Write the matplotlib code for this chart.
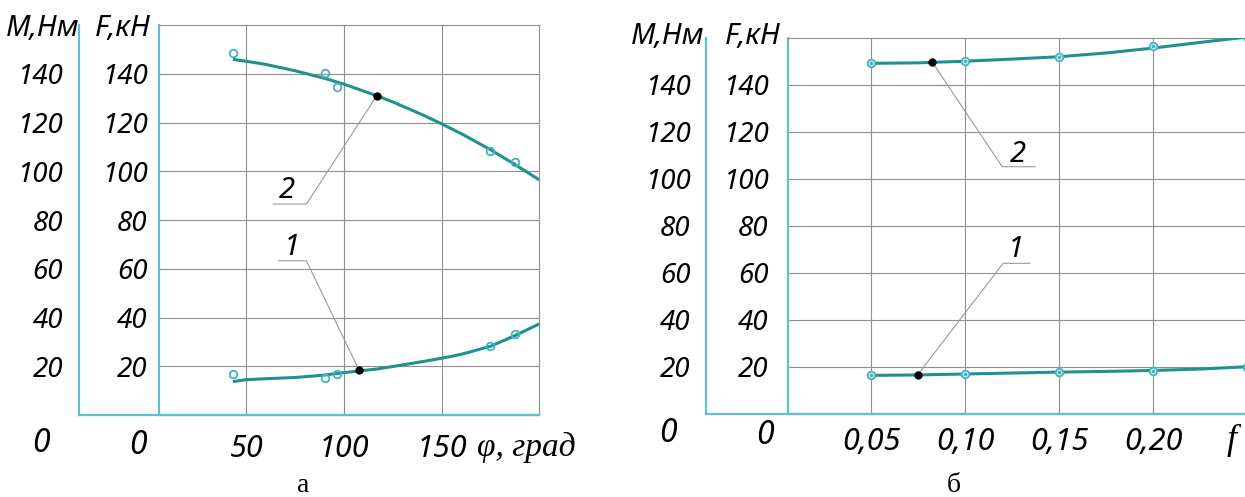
import matplotlib
matplotlib.use('Agg')
import matplotlib.pyplot as plt

# --- данные ---
# а) зависимость от угла phi, град
phi_line = [43, 50, 60, 75, 90, 100, 117, 125, 140, 150, 160, 175, 187, 200]
a_curve2 = [146.0, 145.2, 143.9, 141.3, 138.2, 135.8, 131.0, 128.5, 123.3, 119.5, 115.5, 108.9, 103.1, 96.5]
a_curve1 = [13.7, 14.5, 14.9, 15.4, 16.4, 17.4, 18.9, 19.9, 21.9, 23.3, 24.9, 28.2, 32.4, 37.4]
phi_pts = [43.2, 90.2, 96.3, 174.7, 187.8]
a_pts2 = [148.5, 140.3, 134.8, 108.5, 103.7]
a_pts1 = [16.8, 15.3, 16.8, 28.5, 33.1]
a_dots_x = [116.7, 107.6]
a_dots_y = [131.0, 18.5]

# б) зависимость от коэффициента f
f_line = [0.05, 0.075, 0.10, 0.125, 0.15, 0.175, 0.20, 0.225, 0.25]
b_curve2 = [149.1, 149.3, 150.0, 150.9, 151.9, 153.5, 155.6, 158.0, 160.3]
b_curve1 = [16.3, 16.5, 16.9, 17.3, 17.7, 18.0, 18.4, 19.0, 20.0]
f_pts = [0.05, 0.10, 0.15, 0.20, 0.25]
b_pts2 = [149.1, 150.1, 151.9, 156.5, 160.3]
b_pts1 = [16.3, 16.9, 17.7, 18.3, 20.0]
b_dots_x = [0.0826, 0.0747]
b_dots_y = [149.5, 16.5]

y_ticks = [20, 40, 60, 80, 100, 120, 140]
a_xticks = [50, 100, 150]
a_xlabels = ['50', '100', '150']
b_xticks = [0.05, 0.10, 0.15, 0.20]
b_xlabels = ['0,05', '0,10', '0,15', '0,20']

# выноски: (номер, точка кривой, излом, конец полки, место цифры)
a_leaders = [('2', (116.7, 131.0), (80.7, 86.6), (63.7, 86.6), (70.5, 92.0)),
             ('1', (107.6, 18.5), (80.7, 63.3), (66.4, 63.3), (73.0, 68.6))]
b_leaders = [('2', (0.0826, 149.5), (0.1197, 105.1), (0.1372, 105.1), (0.1280, 110.5)),
             ('1', (0.0747, 16.5), (0.1202, 64.0), (0.1344, 64.0), (0.1272, 70.0))]

W, H = 1245, 497
AX_COL = '#62c0ca'
LINE_COL = '#1c938e'
PT_COL = '#45b3bd'
GRID_COL = '#8e8e8e'
NARROW = ['Noto Sans', 'DejaVu Sans']
STRETCH = 'condensed'
SERIF = ['Liberation Serif', 'DejaVu Serif']

fig = plt.figure(figsize=(W / 100, H / 100), dpi=100)


def px_axes(x0, x1, ytop, ybot):
    return fig.add_axes([x0 / W, 1 - ybot / H, (x1 - x0) / W, (ybot - ytop) / H])


def ftext(x, y, s, **kw):
    fig.text(x / W, 1 - y / H, s, **kw)


def style_labels(labels, size):
    for lab in labels:
        lab.set_family(NARROW)
        lab.set_stretch(STRETCH)
        lab.set_style('italic')
        lab.set_fontsize(size)


def make_panel(xF, xM, xR, ytop, ybot, xlim, xticks, xlabels, padF, padM, padX, right_border):
    axM = px_axes(xM, xR, ytop, ybot)
    axM.set_facecolor('none')
    axM.set_xlim(xlim)
    axM.set_ylim(0, 160)
    for s in ['top', 'right']:
        axM.spines[s].set_visible(False)
    for s in ['left', 'bottom']:
        axM.spines[s].set_color(AX_COL)
        axM.spines[s].set_linewidth(1.6)
    axM.set_xticks([])
    axM.set_yticks(y_ticks)
    axM.set_yticklabels([str(v) for v in y_ticks])
    axM.tick_params(axis='y', length=0, pad=padM)
    style_labels(axM.get_yticklabels(), 20)

    ax = px_axes(xF, xR, ytop, ybot)
    ax.set_facecolor('none')
    ax.set_xlim(xlim)
    ax.set_ylim(0, 160)
    ax.spines['left'].set_color(AX_COL)
    ax.spines['bottom'].set_color(AX_COL)
    ax.spines['left'].set_linewidth(1.6)
    ax.spines['bottom'].set_linewidth(1.6)
    ax.spines['top'].set_color(GRID_COL)
    ax.spines['top'].set_linewidth(0.8)
    ax.spines['right'].set_color(GRID_COL)
    ax.spines['right'].set_linewidth(0.8)
    ax.spines['right'].set_visible(right_border)
    ax.set_yticks(y_ticks)
    ax.set_yticklabels([str(v) for v in y_ticks])
    ax.set_xticks(xticks)
    ax.set_xticklabels(xlabels)
    ax.tick_params(axis='y', length=0, pad=padF)
    ax.tick_params(axis='x', length=0, pad=padX)
    style_labels(ax.get_yticklabels(), 20)
    style_labels(ax.get_xticklabels(), 22)
    ax.grid(True, color=GRID_COL, linewidth=0.8)
    ax.set_axisbelow(True)
    return ax


def draw_leaders(ax, leaders):
    for num, p0, p1, p2, pt in leaders:
        ax.plot([p0[0], p1[0], p2[0]], [p0[1], p1[1], p2[1]],
                color='#9a9a9a', lw=0.8, zorder=2, clip_on=False)
        ax.text(pt[0], pt[1], num, family=NARROW, stretch=STRETCH, style='italic',
                fontsize=21, ha='center', va='center', zorder=5)


# ---- панель а ----
axA = make_panel(159.3, 79, 539.3, 415 - 160 * 2.436, 415,
                 (5.33, 200), a_xticks, a_xlabels, 8.6, 11.5, 14.0, True)
axA.plot(phi_line, a_curve2, color=LINE_COL, lw=2.2, zorder=3, solid_capstyle='butt')
axA.plot(phi_line, a_curve1, color=LINE_COL, lw=2.2, zorder=3, solid_capstyle='butt')
axA.plot(phi_pts, a_pts2, 'o', ms=5.5, mfc='none', mec=PT_COL, mew=1.3, zorder=4, clip_on=False)
axA.plot(phi_pts, a_pts1, 'o', ms=5.5, mfc='none', mec=PT_COL, mew=1.3, zorder=4, clip_on=False)
draw_leaders(axA, a_leaders)
axA.plot(a_dots_x, a_dots_y, 'o', ms=5, color='black', zorder=6)

# ---- панель б ----
axB = make_panel(788, 705.7, 777 + 0.25 * 1881.4, 37.7, 413.7,
                 (0.00585, 0.25), b_xticks, b_xlabels, 14.0, 11.0, 9.6, False)
axB.plot(f_line, b_curve2, color=LINE_COL, lw=2.2, zorder=3)
axB.plot(f_line, b_curve1, color=LINE_COL, lw=2.2, zorder=3)
for ys in (b_pts2, b_pts1):
    axB.plot(f_pts, ys, 'o', ms=5.5, mfc='#d8f0f2', mec=PT_COL, mew=1.3, zorder=4)
    axB.plot(f_pts, ys, 'o', ms=1.6, color=PT_COL, zorder=4)
draw_leaders(axB, b_leaders)
axB.plot(b_dots_x, b_dots_y, 'o', ms=5, color='black', zorder=6)

# ---- подписи осей ----
lab_kw = dict(family=NARROW, stretch=STRETCH, style='italic', ha='center', va='center')
ftext(42.5, 29, 'M,Нм', fontsize=21, **lab_kw)
ftext(122.5, 29, 'F,кН', fontsize=21, **lab_kw)
ftext(668, 36, 'M,Нм', fontsize=21, **lab_kw)
ftext(753, 36, 'F,кН', fontsize=21, **lab_kw)
ftext(41, 444, '0', fontsize=23, **lab_kw)
ftext(137.5, 446, '0', fontsize=23, **lab_kw)
ftext(668, 434, '0', fontsize=23, **lab_kw)
ftext(764.5, 436, '0', fontsize=23, **lab_kw)

ftext(477, 447, 'φ, град', family=SERIF, style='italic', fontsize=24, ha='left', va='center')
ftext(1232, 440, 'f', family=SERIF, style='italic', fontsize=26, ha='center', va='center')

ftext(303.6, 486, 'а', family=SERIF, fontsize=20, ha='center', va='center')
ftext(953.8, 486, 'б', family=SERIF, fontsize=20, ha='center', va='center')

plt.savefig('out.png', dpi=100)
